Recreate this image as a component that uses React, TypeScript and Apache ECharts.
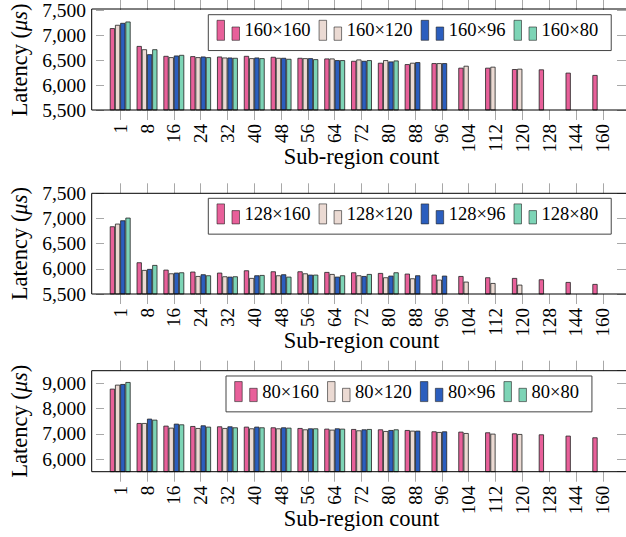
import React, { useEffect, useRef } from "react";
import * as echarts from "echarts";

const categories = ["1", "8", "16", "24", "32", "40", "48", "56", "64", "72", "80", "88", "96", "104", "112", "120", "128", "144", "160"];

const p1Names = ["160×160", "160×120", "160×96", "160×80"];
const p1_160x160 = [7137, 6780, 6582, 6576, 6569, 6582, 6563, 6543, 6530, 6483, 6444, 6417, 6437, 6345, 6345, 6318, 6312, 6246, 6200];
const p1_160x120 = [7203, 6714, 6556, 6556, 6549, 6536, 6543, 6536, 6530, 6510, 6497, 6444, 6437, 6384, 6365, 6325, null, null, null];
const p1_160x96 = [7242, 6615, 6589, 6569, 6549, 6549, 6543, 6536, 6497, 6483, 6470, 6457, 6437, null, null, null, null, null, null];
const p1_160x80 = [7269, 6714, 6602, 6556, 6543, 6536, 6523, 6516, 6497, 6497, 6490, null, null, null, null, null, null, null, null];

const p2Names = ["128×160", "128×120", "128×96", "128×80"];
const p2_128x160 = [6844, 6129, 5983, 5944, 5924, 5970, 5950, 5950, 5937, 5930, 5917, 5904, 5884, 5857, 5831, 5818, 5791, 5738, 5699];
const p2_128x120 = [6897, 5977, 5910, 5857, 5851, 5818, 5871, 5910, 5897, 5871, 5831, 5811, 5785, 5745, 5718, 5685, null, null, null];
const p2_128x96 = [6963, 5997, 5924, 5891, 5844, 5871, 5891, 5884, 5844, 5857, 5864, 5871, 5864, null, null, null, null, null, null];
const p2_128x80 = [7016, 6076, 5930, 5871, 5851, 5877, 5844, 5884, 5871, 5897, 5930, null, null, null, null, null, null, null, null];

const p3Names = ["80×160", "80×120", "80×96", "80×80"];
const p3_80x160 = [8787, 7427, 7322, 7308, 7295, 7282, 7256, 7229, 7203, 7190, 7176, 7150, 7097, 7084, 7058, 7018, 6978, 6926, 6860];
const p3_80x120 = [8945, 7427, 7242, 7229, 7229, 7216, 7216, 7176, 7163, 7137, 7110, 7124, 7071, 7031, 7005, 6992, null, null, null];
const p3_80x96 = [8972, 7599, 7401, 7335, 7295, 7282, 7256, 7216, 7216, 7176, 7150, 7124, 7097, null, null, null, null, null, null];
const p3_80x80 = [9051, 7559, 7374, 7282, 7256, 7256, 7242, 7216, 7203, 7190, 7176, null, null, null, null, null, null, null, null];

const yMins = [5500, 5500, 5500];
const yMaxs = [7500, 7500, 9500];
const ySplits = [4, 4, 4];

const colors = ["#E8609A", "#EBDAD3", "#2B5EBE", "#7DD4B6"];
const FONT = "Liberation Serif";

const panels = [
  { names: p1Names, data: [p1_160x160, p1_160x120, p1_160x96, p1_160x80] },
  { names: p2Names, data: [p2_128x160, p2_128x120, p2_128x96, p2_128x80] },
  { names: p3Names, data: [p3_80x160, p3_80x120, p3_80x96, p3_80x80] },
];

const layout = [
  { top: 9, height: 101, legendLeft: 208.3, legendTop: 14.7 },
  { top: 193.3, height: 100.7, legendLeft: 208.3, legendTop: 198.3 },
  { top: 370.7, height: 101, legendLeft: 226, legendTop: 376 },
];

const GRID_LEFT = 102.5;
const GRID_WIDTH = 513.7;
const OFFSET = 10.8;
const TICK = "#a8a8a8";

function addCommas(v: number) {
  return String(v).replace(/\B(?=(\d{3})+(?!\d))/g, ",");
}

export default function App() {
  const ref = useRef<HTMLDivElement>(null);
  useEffect(() => {
    if (!ref.current) return;
    const chart = echarts.init(ref.current, null, { renderer: "svg" });
    const grid: any[] = [];
    const xAxis: any[] = [];
    const yAxis: any[] = [];
    const series: any[] = [];
    const legend: any[] = [];
    const graphic: any[] = [];
    panels.forEach((p, i) => {
      const L = layout[i];
      grid.push({ left: GRID_LEFT, width: GRID_WIDTH, top: L.top, height: L.height, containLabel: false });
      xAxis.push({
        type: "category",
        gridIndex: i,
        data: categories,
        position: "bottom",
        axisLine: { show: false },
        axisTick: { show: true, inside: false, length: 10, alignWithLabel: true, interval: 0, lineStyle: { color: TICK, width: 1 } },
        axisLabel: { interval: 0, rotate: 90, margin: 14, fontSize: 19, fontFamily: FONT, color: "#000" },
        name: "Sub-region count",
        nameLocation: "middle",
        nameGap: 35,
        nameMoveOverlap: false,
        nameTextStyle: { fontSize: 22.5, fontFamily: FONT, color: "#000" },
      });
      xAxis.push({
        type: "category",
        gridIndex: i,
        data: categories,
        position: "top",
        axisLine: { show: false },
        axisTick: { show: true, inside: false, length: 10, alignWithLabel: true, interval: 0, lineStyle: { color: TICK, width: 1 } },
        axisLabel: { show: false },
      });
      const isLast = i === 2;
      yAxis.push({
        type: "value",
        gridIndex: i,
        position: "left",
        offset: OFFSET,
        min: yMins[i],
        max: yMaxs[i],
        splitNumber: ySplits[i],
        axisLine: { show: false },
        splitLine: { show: false },
        axisTick: { show: true, inside: true, length: 8, lineStyle: { color: TICK, width: 1 } },
        axisLabel: {
          margin: 10,
          fontSize: 19.5,
          fontFamily: FONT,
          color: "#000",
          showMinLabel: !isLast,
          showMaxLabel: !isLast,
          formatter: (v: number) => addCommas(v),
        },
        name: "Latency ({i|μs})",
        nameLocation: "middle",
        nameGap: 65,
        nameMoveOverlap: false,
        nameTextStyle: {
          fontSize: 22.5,
          fontFamily: FONT,
          color: "#000",
          rich: { i: { fontSize: 22.5, fontFamily: FONT, fontStyle: "italic", color: "#000" } },
        },
      });
      yAxis.push({
        type: "value",
        gridIndex: i,
        position: "right",
        offset: OFFSET,
        min: yMins[i],
        max: yMaxs[i],
        splitNumber: ySplits[i],
        axisLine: { show: false },
        splitLine: { show: false },
        axisTick: { show: true, inside: true, length: 10, lineStyle: { color: TICK, width: 1 } },
        axisLabel: { show: false },
      });
      p.names.forEach((n, k) => {
        series.push({
          type: "bar",
          name: n,
          xAxisIndex: 2 * i,
          yAxisIndex: 2 * i,
          data: p.data[k],
          barWidth: 5.2,
          barGap: "0%",
          itemStyle: { color: colors[k], borderColor: "#222", borderWidth: 0.8 },
        });
      });
      legend.push({
        data: p.names,
        left: L.legendLeft,
        top: L.legendTop,
        orient: "horizontal",
        selectedMode: false,
        icon: "path://M0,0h7.5v20h-7.5z M15,6.7h7.5v13.3h-7.5z",
        itemWidth: 22.6,
        itemHeight: 20,
        itemGap: 8.3,
        padding: [5.3, 13, 9.95, 8.4],
        borderColor: "#444",
        borderWidth: 1,
        backgroundColor: "#fff",
        textStyle: { fontSize: 18.5, fontFamily: FONT, color: "#000", padding: [7, 0, 0, 0] },
        itemStyle: { borderColor: "#222", borderWidth: 0.6 },
      });
      graphic.push({
        type: "rect",
        z: 100,
        silent: true,
        shape: { x: GRID_LEFT - OFFSET, y: L.top, width: GRID_WIDTH + 2 * OFFSET, height: L.height },
        style: { fill: "none", stroke: "#000", lineWidth: 1 },
      });
    });
    chart.setOption({
      animation: false,
      backgroundColor: "#fff",
      grid,
      xAxis,
      yAxis,
      series,
      legend,
      graphic,
    });
    return () => chart.dispose();
  }, []);
  return <div ref={ref} style={{ position: "fixed", left: 0, top: 0, width: 626, height: 537 }} />;
}
